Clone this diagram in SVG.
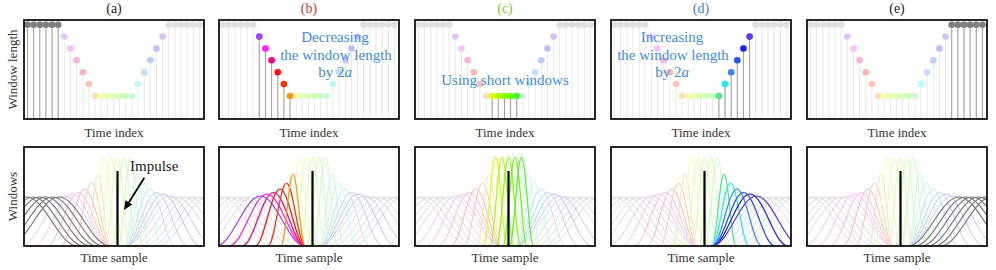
<svg xmlns="http://www.w3.org/2000/svg" width="996" height="270" viewBox="0 0 996 270">
<style>
text{font-family:"Liberation Serif","Times New Roman",serif;fill:#1a1a1a}
.t{font-size:14px;text-anchor:middle}
.ax{font-size:13px;text-anchor:middle;fill:#333}
.ov{font-size:15px;text-anchor:middle;fill:#3d8be8}
.fr{fill:none;stroke:#111;stroke-width:1.8}
.st{fill:none;stroke:#a0a0a0;stroke-width:1}
.imp{fill:none;stroke:#000;stroke-width:2.2}
.hi{fill:none;stroke-width:1.2}
</style>
<defs>
<clipPath id="cb"><rect x="0" y="0" width="180" height="99"/></clipPath>
<path id="w0" d="M-48.5 99C-29.9 99 -16.1 50 2.5 50S34.9 99 53.5 99"/>
<path id="w1" d="M-42 99C-23.4 99 -9.6 50 9 50S41.4 99 60 99"/>
<path id="w2" d="M-35.5 99C-16.9 99 -3.1 50 15.5 50S47.9 99 66.5 99"/>
<path id="w3" d="M-29 99C-10.4 99 3.4 50 22 50S54.4 99 73 99"/>
<path id="w4" d="M-22.5 99C-3.9 99 9.9 50 28.5 50S60.9 99 79.5 99"/>
<path id="w5" d="M-16 99C2.6 99 16.4 50 35 50S67.4 99 86 99"/>
<path id="w6" d="M-3 99C13.2 99 25.3 49 41.5 49S69.8 99 86 99"/>
<path id="w7" d="M10 99C23.8 99 34.2 47 48 47S72.2 99 86 99"/>
<path id="w8" d="M23 99C34.5 99 43 45.5 54.5 45.5S74.5 99 86 99"/>
<path id="w9" d="M36 99C45.1 99 51.9 42 61 42S76.9 99 86 99"/>
<path id="w10" d="M49 99C55.7 99 60.8 36 67.5 36S79.3 99 86 99"/>
<path id="w11" d="M62 99C66.4 99 69.6 27 74 27S81.6 99 86 99"/>
<path id="w12" d="M68.5 99C72.9 99 76.1 10 80.5 10S88.1 99 92.5 99"/>
<path id="w13" d="M75 99C79.4 99 82.6 10 87 10S94.6 99 99 99"/>
<path id="w14" d="M81.5 99C85.9 99 89.1 10 93.5 10S101.1 99 105.5 99"/>
<path id="w15" d="M88 99C92.4 99 95.6 10 100 10S107.6 99 112 99"/>
<path id="w16" d="M94.5 99C98.9 99 102.1 10 106.5 10S114.1 99 118.5 99"/>
<path id="w17" d="M101 99C105.4 99 108.6 27 113 27S120.6 99 125 99"/>
<path id="w18" d="M101 99C107.7 99 112.8 36 119.5 36S131.3 99 138 99"/>
<path id="w19" d="M101 99C110.1 99 116.9 42 126 42S141.9 99 151 99"/>
<path id="w20" d="M101 99C112.5 99 121 45.5 132.5 45.5S152.5 99 164 99"/>
<path id="w21" d="M101 99C114.8 99 125.2 47 139 47S163.2 99 177 99"/>
<path id="w22" d="M101 99C117.2 99 129.3 49 145.5 49S173.8 99 190 99"/>
<path id="w23" d="M101 99C119.6 99 133.4 50 152 50S184.4 99 203 99"/>
<path id="w24" d="M107.5 99C126.1 99 139.9 50 158.5 50S190.9 99 209.5 99"/>
<path id="w25" d="M114 99C132.6 99 146.4 50 165 50S197.4 99 216 99"/>
<path id="w26" d="M120.5 99C139.1 99 152.9 50 171.5 50S203.9 99 222.5 99"/>
<path id="w27" d="M127 99C145.6 99 159.4 50 178 50S210.4 99 229 99"/>
<path id="w28" d="M133.5 99C152.1 99 165.9 50 184.5 50S216.9 99 235.5 99"/>
<g id="wb" fill="none" stroke-width="1">
<use href="#w0" stroke="#dcdcdc"/><use href="#w1" stroke="#dcdcdc"/><use href="#w2" stroke="#dcdcdc"/><use href="#w3" stroke="#dcdcdc"/><use href="#w4" stroke="#dcdcdc"/><use href="#w5" stroke="#dcdcdc"/>
<use href="#w23" stroke="#dcdcdc"/><use href="#w24" stroke="#dcdcdc"/><use href="#w25" stroke="#dcdcdc"/><use href="#w26" stroke="#dcdcdc"/><use href="#w27" stroke="#dcdcdc"/><use href="#w28" stroke="#dcdcdc"/>
<use href="#w6" stroke="#e3c6ff"/><use href="#w7" stroke="#ffbcff"/><use href="#w8" stroke="#ffb3db"/><use href="#w9" stroke="#ffb3b3"/><use href="#w10" stroke="#ffc2b3"/><use href="#w11" stroke="#ffe0b3"/>
<use href="#w22" stroke="#d1c2fa"/><use href="#w21" stroke="#bdbdff"/><use href="#w20" stroke="#bdccff"/><use href="#w19" stroke="#c2dbff"/><use href="#w18" stroke="#bdfafa"/><use href="#w17" stroke="#c7fadb"/>
<use href="#w12" stroke="#f5ffb3"/><use href="#w13" stroke="#e6ffb3"/><use href="#w14" stroke="#dbffb3"/><use href="#w15" stroke="#d1ffb3"/><use href="#w16" stroke="#c7ffbd"/>
</g>
<g id="tb">
<path d="M3.5 4.7V99M9.6 4.7V99M15.8 4.7V99M21.9 4.7V99M28.1 4.7V99M34.2 4.7V99M40.3 16.6V99M46.5 28.5V99M52.6 40.3V99M58.8 52.2V99M64.9 64.1V99M71 76V99M77.2 76V99M83.3 76V99M89.5 76V99M95.6 76V99M101.7 76V99M107.9 76V99M114 64.1V99M120.2 52.2V99M126.3 40.3V99M132.4 28.5V99M138.6 16.6V99M144.7 4.7V99M150.9 4.7V99M157 4.7V99M163.1 4.7V99M169.3 4.7V99M175.4 4.7V99" fill="none" stroke="#e8e8e8" stroke-width="1"/>
<g fill="#e0e0e0"><circle cx="3.5" cy="4.7" r="3.3"/><circle cx="9.6" cy="4.7" r="3.3"/><circle cx="15.8" cy="4.7" r="3.3"/><circle cx="21.9" cy="4.7" r="3.3"/><circle cx="28.1" cy="4.7" r="3.3"/><circle cx="34.2" cy="4.7" r="3.3"/><circle cx="144.7" cy="4.7" r="3.3"/><circle cx="150.9" cy="4.7" r="3.3"/><circle cx="157" cy="4.7" r="3.3"/><circle cx="163.1" cy="4.7" r="3.3"/><circle cx="169.3" cy="4.7" r="3.3"/><circle cx="175.4" cy="4.7" r="3.3"/></g>
<circle cx="40.3" cy="16.6" r="3.3" fill="#e3c6ff"/><circle cx="46.5" cy="28.5" r="3.3" fill="#ffbcff"/><circle cx="52.6" cy="40.3" r="3.3" fill="#ffb3db"/><circle cx="58.8" cy="52.2" r="3.3" fill="#ffb3b3"/><circle cx="64.9" cy="64.1" r="3.3" fill="#ffc2b3"/><circle cx="71" cy="76" r="3.3" fill="#ffe0b3"/>
<circle cx="77.2" cy="76" r="3.3" fill="#f5ffb3"/><circle cx="83.3" cy="76" r="3.3" fill="#e6ffb3"/><circle cx="89.5" cy="76" r="3.3" fill="#dbffb3"/><circle cx="95.6" cy="76" r="3.3" fill="#d1ffb3"/><circle cx="101.7" cy="76" r="3.3" fill="#c7ffbd"/><circle cx="107.9" cy="76" r="3.3" fill="#c7fadb"/>
<circle cx="114" cy="64.1" r="3.3" fill="#bdfafa"/><circle cx="120.2" cy="52.2" r="3.3" fill="#c2dbff"/><circle cx="126.3" cy="40.3" r="3.3" fill="#bdccff"/><circle cx="132.4" cy="28.5" r="3.3" fill="#bdbdff"/><circle cx="138.6" cy="16.6" r="3.3" fill="#d1c2fa"/>
</g>
</defs>
<rect width="996" height="270" fill="#fff"/>

<text class="ax" transform="translate(17,69.5) rotate(-90)">Window length</text>
<text class="ax" transform="translate(17,196.5) rotate(-90)">Windows</text>

<!-- panel a -->
<g id="panel-a">
<text class="t" x="114" y="12.5">(a)</text>
<g transform="translate(24,20)">
<use href="#tb"/>
<path class="st" d="M3.5 4.7V99M9.6 4.7V99M15.8 4.7V99M21.9 4.7V99M28.1 4.7V99M34.2 4.7V99"/>
<g fill="#7f7f7f"><circle cx="3.5" cy="4.7" r="3.3"/><circle cx="9.6" cy="4.7" r="3.3"/><circle cx="15.8" cy="4.7" r="3.3"/><circle cx="21.9" cy="4.7" r="3.3"/><circle cx="28.1" cy="4.7" r="3.3"/><circle cx="34.2" cy="4.7" r="3.3"/></g>
<rect class="fr" width="180" height="99"/>
</g>
<text class="ax" x="114" y="136.5">Time index</text>
<g transform="translate(24,147)">
<g clip-path="url(#cb)">
<use href="#wb"/>
<g class="hi" stroke="#7a7a7a"><use href="#w0"/><use href="#w1"/><use href="#w2"/><use href="#w3"/><use href="#w4"/><use href="#w5"/></g>
</g>
<path class="imp" d="M93.5 24V99"/>
<rect class="fr" width="180" height="99"/>
</g>
<text class="ax" x="114" y="262">Time sample</text>
<text x="130" y="170.5" style="font-size:15px">Impulse</text>
</g>

<!-- panel b -->
<g id="panel-b">
<text class="t" x="309" y="12.5" style="fill:#cc3b1f">(b)</text>
<g transform="translate(219,20)">
<use href="#tb"/>
<path class="st" d="M40.3 16.6V99M46.5 28.5V99M52.6 40.3V99M58.8 52.2V99M64.9 64.1V99M71 76V99"/>
<circle cx="40.3" cy="16.6" r="3.3" fill="#a040ff"/><circle cx="46.5" cy="28.5" r="3.3" fill="#ff20ff"/><circle cx="52.6" cy="40.3" r="3.3" fill="#ff0088"/><circle cx="58.8" cy="52.2" r="3.3" fill="#ff1010"/><circle cx="64.9" cy="64.1" r="3.3" fill="#ff3300"/><circle cx="71" cy="76" r="3.3" fill="#ff9900"/>
<rect class="fr" width="180" height="99"/>
</g>
<text class="ov" x="335" y="42">Decreasing</text>
<text class="ov" x="336" y="59.5">the window length</text>
<text class="ov" x="335" y="77">by 2<tspan font-style="italic">a</tspan></text>
<text class="ax" x="309" y="136.5">Time index</text>
<g transform="translate(219,147)">
<g clip-path="url(#cb)">
<use href="#wb"/>
<g class="hi"><use href="#w6" stroke="#a040ff"/><use href="#w7" stroke="#ff20ff"/><use href="#w8" stroke="#ff0088"/><use href="#w9" stroke="#ff1010"/><use href="#w10" stroke="#ff3300"/><use href="#w11" stroke="#ff9900"/></g>
</g>
<path class="imp" d="M93.5 24V99"/>
<rect class="fr" width="180" height="99"/>
</g>
<text class="ax" x="309" y="262">Time sample</text>
</g>

<!-- panel c -->
<g id="panel-c">
<text class="t" x="505" y="12.5" style="fill:#7ccf2a">(c)</text>
<g transform="translate(415,20)">
<use href="#tb"/>
<path class="st" d="M77.2 76V99M83.3 76V99M89.5 76V99M95.6 76V99M101.7 76V99"/>
<circle cx="77.2" cy="76" r="3.3" fill="#ddff00"/><circle cx="83.3" cy="76" r="3.3" fill="#aaff00"/><circle cx="89.5" cy="76" r="3.3" fill="#88ff00"/><circle cx="95.6" cy="76" r="3.3" fill="#66ff00"/><circle cx="101.7" cy="76" r="3.3" fill="#44ff22"/>
<rect class="fr" width="180" height="99"/>
</g>
<text class="ov" x="505" y="85">Using short windows</text>
<text class="ax" x="505" y="136.5">Time index</text>
<g transform="translate(415,147)">
<g clip-path="url(#cb)">
<use href="#wb"/>
<g class="hi"><use href="#w12" stroke="#ddff00"/><use href="#w13" stroke="#aaff00"/><use href="#w14" stroke="#88ff00"/><use href="#w15" stroke="#66ff00"/><use href="#w16" stroke="#44ff22"/></g>
</g>
<path class="imp" d="M93.5 24V99"/>
<rect class="fr" width="180" height="99"/>
</g>
<text class="ax" x="505" y="262">Time sample</text>
</g>

<!-- panel d -->
<g id="panel-d">
<text class="t" x="701" y="12.5" style="fill:#3a7fdd">(d)</text>
<g transform="translate(611,20)">
<use href="#tb"/>
<path class="st" d="M107.9 76V99M114 64.1V99M120.2 52.2V99M126.3 40.3V99M132.4 28.5V99M138.6 16.6V99"/>
<circle cx="107.9" cy="76" r="3.3" fill="#44ee88"/><circle cx="114" cy="64.1" r="3.3" fill="#22eeee"/><circle cx="120.2" cy="52.2" r="3.3" fill="#3388ff"/><circle cx="126.3" cy="40.3" r="3.3" fill="#2255ff"/><circle cx="132.4" cy="28.5" r="3.3" fill="#2222ff"/><circle cx="138.6" cy="16.6" r="3.3" fill="#6633ee"/>
<rect class="fr" width="180" height="99"/>
</g>
<text class="ov" x="672" y="42">Increasing</text>
<text class="ov" x="673" y="59.5">the window length</text>
<text class="ov" x="672" y="77">by 2<tspan font-style="italic">a</tspan></text>
<text class="ax" x="701" y="136.5">Time index</text>
<g transform="translate(611,147)">
<g clip-path="url(#cb)">
<use href="#wb"/>
<g class="hi"><use href="#w17" stroke="#44ee88"/><use href="#w18" stroke="#22eeee"/><use href="#w19" stroke="#3388ff"/><use href="#w20" stroke="#2255ff"/><use href="#w21" stroke="#2222ff"/><use href="#w22" stroke="#6633ee"/></g>
</g>
<path class="imp" d="M93.5 24V99"/>
<rect class="fr" width="180" height="99"/>
</g>
<text class="ax" x="701" y="262">Time sample</text>
</g>

<!-- panel e -->
<g id="panel-e">
<text class="t" x="897" y="12.5">(e)</text>
<g transform="translate(807,20)">
<use href="#tb"/>
<path class="st" d="M144.7 4.7V99M150.9 4.7V99M157 4.7V99M163.1 4.7V99M169.3 4.7V99M175.4 4.7V99"/>
<g fill="#7f7f7f"><circle cx="144.7" cy="4.7" r="3.3"/><circle cx="150.9" cy="4.7" r="3.3"/><circle cx="157" cy="4.7" r="3.3"/><circle cx="163.1" cy="4.7" r="3.3"/><circle cx="169.3" cy="4.7" r="3.3"/><circle cx="175.4" cy="4.7" r="3.3"/></g>
<rect class="fr" width="180" height="99"/>
</g>
<text class="ax" x="897" y="136.5">Time index</text>
<g transform="translate(807,147)">
<g clip-path="url(#cb)">
<use href="#wb"/>
<g class="hi" stroke="#7a7a7a"><use href="#w23"/><use href="#w24"/><use href="#w25"/><use href="#w26"/><use href="#w27"/><use href="#w28"/></g>
</g>
<path class="imp" d="M93.5 24V99"/>
<rect class="fr" width="180" height="99"/>
</g>
<text class="ax" x="897" y="262">Time sample</text>
</g>

<g id="connectors">
<line x1="144.3" y1="177.7" x2="128.8" y2="202.4" stroke="#000" stroke-width="1.8"/>
<polygon points="124,210 125.4,200.3 132.2,204.5" fill="#000"/>
</g>
</svg>
